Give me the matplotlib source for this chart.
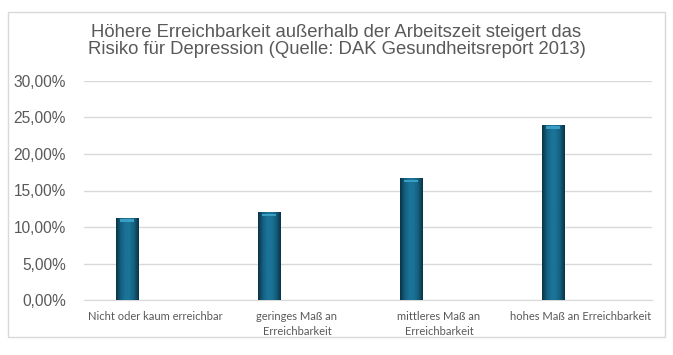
import numpy as np
import matplotlib
matplotlib.use("Agg")
from matplotlib import pyplot as plt
from matplotlib.colors import LinearSegmentedColormap
from matplotlib.patches import Rectangle

# Daten aus dem DAK Gesundheitsreport 2013
kategorien = ["Nicht oder kaum erreichbar", "geringes Maß an\nErreichbarkeit",
              "mittleres Maß an\nErreichbarkeit", "hohes Maß an Erreichbarkeit"]
anteile = [11.3, 12.0, 16.7, 24.0]
y_ticks = [0, 5, 10, 15, 20, 25, 30]
y_labels = ["0,00%", "5,00%", "10,00%", "15,00%", "20,00%", "25,00%", "30,00%"]
titel = ("Höhere Erreichbarkeit außerhalb der Arbeitszeit steigert das\n"
         "Risiko für Depression (Quelle: DAK Gesundheitsreport 2013)")

grau = "#595959"

fig = plt.figure(figsize=(6.73, 3.55), dpi=100)
# Rahmen um das Diagramm
fig.patches.append(Rectangle((8 / 673, 1 - 337 / 355), 657 / 673, 325.5 / 355,
                             transform=fig.transFigure, fill=False,
                             edgecolor="#d9d9d9", linewidth=1))
ax = fig.add_axes([84 / 673, 1 - 300.3 / 355, 568 / 673, 219.6 / 355])

x = np.arange(len(kategorien))
bars = ax.bar(x - 0.197, anteile, width=0.155, color="#17698a", zorder=2)

# Schattierung der Balken (Bevel-Effekt)
cmap = LinearSegmentedColormap.from_list(
    "bevel", ["#0a3346", "#135e7d", "#1b7397", "#1b7397", "#135e7d", "#0a3346"])
grad = np.linspace(0, 1, 64).reshape(1, -1)
for b in bars:
    x0, w, h = b.get_x(), b.get_width(), b.get_height()
    im = ax.imshow(grad, cmap=cmap, aspect="auto", extent=(x0, x0 + w, 0, h),
                   zorder=3, interpolation="bilinear")
    im.set_clip_path(b)
    cap = Rectangle((x0 + w * 0.18, h - 0.55), w * 0.64, 0.35,
                    color="#3a9dc2", zorder=4, linewidth=0)
    ax.add_patch(cap)

ax.set_xlim(-0.5, len(kategorien) - 0.5)
ax.set_ylim(0, 30)
ax.set_yticks(y_ticks)
ax.set_yticklabels(y_labels, fontname="Liberation Sans", fontsize=11.2, color=grau)
ax.set_xticks(x)
ax.set_xticklabels(kategorien, fontname="Lato", fontsize=8, color=grau,
                   linespacing=1.35)
ax.tick_params(length=0)
ax.tick_params(axis="y", pad=13)
ax.tick_params(axis="x", pad=8)
ax.grid(axis="y", color="#d9d9d9", linewidth=1, zorder=0)
for s in ax.spines.values():
    s.set_visible(False)
ax.spines["bottom"].set_visible(True)
ax.spines["bottom"].set_color("#d9d9d9")

fig.text(0.5, 1 - 41 / 355, titel, ha="center", va="center",
         fontname="Liberation Sans", fontsize=13.3, color=grau, linespacing=1.02)

fig.savefig("out.png", dpi=100)
